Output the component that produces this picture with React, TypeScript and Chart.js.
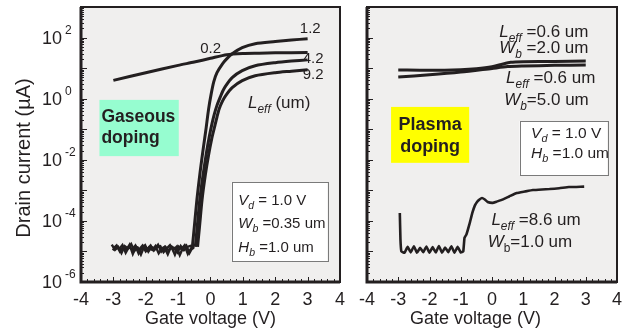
import React, { useEffect, useRef } from "react";
import { Chart, registerables } from "chart.js";

Chart.register(...registerables);

const FONT = '"Liberation Sans", Arial, Helvetica, sans-serif';
const INK = "#231f20";

// ---------- Left panel (gaseous doping) ----------
const xTicksMinMax = [-4, 4];
const yRange = [1e-6, 1e3];
const yTickValues = [1e2, 1, 1e-2, 1e-4, 1e-6];
const yTickExponents = ["2", "0", "-2", "-4", "-6"];

const offAX = [-3.05, -2.95, -2.85, -2.75, -2.65, -2.55, -2.45, -2.35, -2.25, -2.15, -2.05, -1.95, -1.85, -1.75, -1.65, -1.55, -1.45, -1.35, -1.25, -1.15, -1.05, -0.95, -0.85, -0.75, -0.65, -0.55];
const offAY = [1.66e-5, 1.12e-5, 1.41e-5, 8.9e-6, 1.51e-5, 1.26e-5, 1.74e-5, 1.05e-5, 1.32e-5, 7.9e-6, 1.45e-5, 1.2e-5, 1.58e-5, 1.07e-5, 1.38e-5, 1.48e-5, 9.5e-6, 1.26e-5, 1.62e-5, 1.12e-5, 1.41e-5, 7.6e-6, 1.32e-5, 1.58e-5, 8.9e-6, 1.38e-5];
const offBX = [-3.0, -2.9, -2.8, -2.7, -2.6, -2.5, -2.4, -2.3, -2.2, -2.1, -2.0, -1.9, -1.8, -1.7, -1.6, -1.5, -1.4, -1.3, -1.2, -1.1, -1.0, -0.9, -0.8, -0.7, -0.6, -0.5];
const offBY = [1.26e-5, 1.58e-5, 1.0e-5, 1.38e-5, 1.12e-5, 1.66e-5, 8.3e-6, 1.45e-5, 1.17e-5, 1.55e-5, 1.0e-5, 1.35e-5, 1.12e-5, 1.51e-5, 8.7e-6, 1.26e-5, 1.45e-5, 1.07e-5, 1.38e-5, 7.9e-6, 1.48e-5, 1.2e-5, 1.58e-5, 8.3e-6, 1.26e-5, 1.41e-5];
const offCX = [-3.02, -2.92, -2.82, -2.72, -2.62, -2.52, -2.42, -2.32, -2.22, -2.12, -2.02, -1.92, -1.82, -1.72, -1.62, -1.52, -1.42, -1.32, -1.22, -1.12, -1.02, -0.92, -0.82, -0.72, -0.62, -0.52];
const offCY = [1.1e-5, 1.45e-5, 1.2e-5, 1.62e-5, 9.1e-6, 1.4e-5, 1.15e-5, 1.55e-5, 8.5e-6, 1.3e-5, 1.6e-5, 9.8e-6, 1.4e-5, 1.22e-5, 1.66e-5, 1.0e-5, 1.35e-5, 8.1e-6, 1.45e-5, 1.3e-5, 9.3e-6, 1.5e-5, 1.1e-5, 1.4e-5, 1.52e-5, 1.2e-5];

const l02X = [-3, -2, -1, -0.5, 0, 0.5, 1, 1.5, 2, 3];
const l02Y = [3.98, 7.08, 12.3, 15.8, 20.9, 27.5, 30.2, 30.9, 31.6, 32.4];

const l12X = [-0.56, -0.5, -0.42, -0.32, -0.22, -0.14, -0.06, 0.02, 0.1, 0.2, 0.37, 0.5, 0.67, 0.98, 1.38, 2.0, 2.5, 3.0];
const l12Y = [1.41e-5, 6.3e-5, 5.0e-4, 4.0e-3, 0.025, 0.1, 0.447, 1.41, 3.55, 7.08, 13.8, 20.0, 29.5, 46.8, 63.1, 74.1, 83.2, 91.2];

const l42X = [-0.47, -0.41, -0.33, -0.23, -0.13, -0.03, 0.05, 0.12, 0.2, 0.3, 0.38, 0.47, 0.67, 0.98, 1.38, 2.0, 2.5, 3.0];
const l42Y = [1.41e-5, 6.3e-5, 5.0e-4, 3.16e-3, 0.0158, 0.063, 0.158, 0.316, 0.603, 1.12, 1.78, 2.63, 4.9, 8.32, 12.0, 15.1, 17.0, 18.6];

const l92X = [-0.4, -0.34, -0.26, -0.16, -0.06, 0.04, 0.12, 0.2, 0.27, 0.37, 0.47, 0.67, 0.98, 1.38, 2.0, 2.5, 3.0];
const l92Y = [1.41e-5, 6.3e-5, 5.0e-4, 3.16e-3, 0.0141, 0.05, 0.112, 0.251, 0.468, 0.832, 1.26, 2.29, 3.89, 5.62, 7.08, 7.94, 8.91];

// ---------- Right panel (plasma doping) ----------
const wb2X = [-3, -2, -1, -0.5, 0, 0.3, 0.6, 1, 2, 3];
const wb2Y = [8.71, 8.51, 8.91, 9.55, 11.0, 13.2, 15.5, 16.2, 16.6, 17.0];

const wb5X = [-3, -2, -1, 0, 0.5, 1, 2, 3];
const wb5Y = [5.13, 6.03, 7.41, 9.77, 11.2, 11.7, 12.3, 12.6];

const l86X = [-2.95, -2.93, -2.9, -2.8, -2.7, -2.6, -2.5, -2.4, -2.3, -2.2, -2.1, -2.0, -1.9, -1.8, -1.7, -1.6, -1.5, -1.4, -1.3, -1.2, -1.1, -1.0, -0.92, -0.88, -0.82, -0.72, -0.63, -0.55, -0.48, -0.4, -0.32, -0.23, -0.14, 0.02, 0.15, 0.29, 0.55, 0.79, 1.05, 1.31, 1.6, 1.84, 2.15, 2.46, 2.7, 2.95];
const l86Y = [1.82e-4, 2.51e-5, 1.0e-5, 9.1e-6, 1.41e-5, 9.3e-6, 1.48e-5, 9.1e-6, 1.32e-5, 9.5e-6, 1.45e-5, 9.1e-6, 1.38e-5, 9.3e-6, 1.51e-5, 9.1e-6, 1.35e-5, 9.5e-6, 1.48e-5, 9.1e-6, 1.41e-5, 9.3e-6, 1.0e-5, 2.82e-5, 3.55e-5, 7.94e-5, 1.82e-4, 3.16e-4, 4.17e-4, 5.01e-4, 5.62e-4, 5.01e-4, 4.17e-4, 3.89e-4, 4.27e-4, 4.79e-4, 6.31e-4, 8.13e-4, 9.12e-4, 1.02e-3, 1.07e-3, 1.10e-3, 1.17e-3, 1.29e-3, 1.29e-3, 1.32e-3];

type Seg = { t: string; i?: boolean; sub?: boolean; b?: boolean };
type Label = { x: number; ly: number; size: number; segs: Seg[]; align?: "left" | "center" };
type Box = { x1: number; x2: number; ly1: number; ly2: number; fill: string; stroke?: string };

const leftLabels: Label[] = [
  { x: 2.76, ly: 2.15, size: 15, segs: [{ t: "1.2" }] },
  { x: -0.32, ly: 1.49, size: 15, segs: [{ t: "0.2" }] },
  { x: 2.85, ly: 1.17, size: 15, segs: [{ t: "4.2" }] },
  { x: 2.85, ly: 0.64, size: 15, segs: [{ t: "9.2" }] },
  { x: 1.16, ly: -0.31, size: 17, segs: [{ t: "L", i: true }, { t: "eff", i: true, sub: true }, { t: " (um)" }] },
  { x: -3.37, ly: -0.76, size: 17.5, segs: [{ t: "Gaseous", b: true }] },
  { x: -3.37, ly: -1.45, size: 17.5, segs: [{ t: "doping", b: true }] },
  { x: 0.86, ly: -3.48, size: 15, segs: [{ t: "V", i: true }, { t: "d", i: true, sub: true }, { t: " = 1.0 V" }] },
  { x: 0.86, ly: -4.23, size: 15, segs: [{ t: "W", i: true }, { t: "b", i: true, sub: true }, { t: " =0.35 um" }] },
  { x: 0.86, ly: -5.02, size: 15, segs: [{ t: "H", i: true }, { t: "b", i: true, sub: true }, { t: " =1.0 um" }] },
];
const leftBoxes: Box[] = [
  { x1: -3.43, x2: -0.98, ly1: -0.04, ly2: -1.88, fill: "#96fdd0" },
  { x1: 0.65, x2: 3.61, ly1: -2.73, ly2: -5.31, fill: "#ffffff", stroke: "#7a7a7a" },
];

const rightLabels: Label[] = [
  { x: 0.23, ly: 2.02, size: 17, segs: [{ t: "L", i: true }, { t: "eff", i: true, sub: true }, { t: " =0.6 um" }] },
  { x: 0.23, ly: 1.49, size: 17, segs: [{ t: "W", i: true }, { t: "b", i: true, sub: true }, { t: " =2.0 um" }] },
  { x: 0.45, ly: 0.51, size: 17, segs: [{ t: "L", i: true }, { t: "eff", i: true, sub: true }, { t: " =0.6 um" }] },
  { x: 0.39, ly: -0.21, size: 17, segs: [{ t: "W", i: true }, { t: "b", i: true, sub: true }, { t: "=5.0 um" }] },
  { x: -0.02, ly: -4.13, size: 17, segs: [{ t: "L", i: true }, { t: "eff", i: true, sub: true }, { t: " =8.6 um" }] },
  { x: -0.14, ly: -4.85, size: 17, segs: [{ t: "W", i: true }, { t: "b", sub: true }, { t: "=1.0 um" }] },
  { x: -1.98, ly: -1.02, size: 18, segs: [{ t: "Plasma", b: true }], align: "center" },
  { x: -1.98, ly: -1.74, size: 18, segs: [{ t: "doping", b: true }], align: "center" },
  { x: 1.25, ly: -1.29, size: 15.5, segs: [{ t: "V", i: true }, { t: "d", i: true, sub: true }, { t: " = 1.0 V" }] },
  { x: 1.25, ly: -1.94, size: 15.5, segs: [{ t: "H", i: true }, { t: "b", i: true, sub: true }, { t: " =1.0 um" }] },
];
const rightBoxes: Box[] = [
  { x1: -3.23, x2: -0.73, ly1: -0.27, ly2: -2.1, fill: "#ffff00" },
  { x1: 0.88, x2: 3.69, ly1: -0.73, ly2: -2.5, fill: "#ffffff", stroke: "#7a7a7a" },
];

function pts(xs: number[], ys: number[]) {
  return xs.map((x, i) => ({ x, y: ys[i] }));
}

function segFont(s: Seg, size: number) {
  const fs = s.sub ? size * 0.7 : size;
  return `${s.i ? "italic " : ""}${s.b ? "bold " : ""}${fs}px ${FONT}`;
}

function drawRich(ctx: CanvasRenderingContext2D, x: number, y: number, segs: Seg[], size: number, align?: string) {
  let total = 0;
  for (const s of segs) {
    ctx.font = segFont(s, size);
    total += ctx.measureText(s.t).width;
  }
  let cx = align === "center" ? x - total / 2 : x;
  ctx.textAlign = "left";
  ctx.textBaseline = "alphabetic";
  for (const s of segs) {
    ctx.font = segFont(s, size);
    ctx.fillText(s.t, cx, y + (s.sub ? size * 0.28 : 0));
    cx += ctx.measureText(s.t).width;
  }
}

type PanelCfg = {
  labels: Label[];
  boxes: Box[];
  yLabels: boolean;
  xTitleX?: number;
};

function makePlugin(cfg: PanelCfg) {
  return {
    id: "panelDecor",
    beforeDatasetsDraw(chart: any) {
      const { ctx, chartArea: a, scales } = chart;
      const sx = scales.x, sy = scales.y;
      ctx.save();
      ctx.fillStyle = "#f0efee";
      ctx.fillRect(a.left, a.top, a.right - a.left, a.bottom - a.top);
      for (const b of cfg.boxes) {
        const x1 = sx.getPixelForValue(b.x1), x2 = sx.getPixelForValue(b.x2);
        const y1 = sy.getPixelForValue(Math.pow(10, b.ly1)), y2 = sy.getPixelForValue(Math.pow(10, b.ly2));
        ctx.fillStyle = b.fill;
        ctx.fillRect(x1, y1, x2 - x1, y2 - y1);
        if (b.stroke) {
          ctx.strokeStyle = b.stroke;
          ctx.lineWidth = 1;
          ctx.strokeRect(Math.round(x1) + 0.5, Math.round(y1) + 0.5, Math.round(x2 - x1), Math.round(y2 - y1));
        }
      }
      ctx.restore();
    },
    afterDatasetsDraw(chart: any) {
      const { ctx, chartArea: a, scales } = chart;
      const sx = scales.x, sy = scales.y;
      ctx.save();
      ctx.fillStyle = INK;
      for (const l of cfg.labels) {
        drawRich(ctx, sx.getPixelForValue(l.x), sy.getPixelForValue(Math.pow(10, l.ly)), l.segs, l.size, l.align);
      }
      // inward tick marks
      ctx.strokeStyle = INK;
      ctx.lineWidth = 1;
      for (let k = -20; k <= 20; k++) {
        const px = Math.round(sx.getPixelForValue(k / 5)) + 0.5;
        const len = k % 5 === 0 ? 5 : 3;
        ctx.beginPath();
        ctx.moveTo(px, a.bottom);
        ctx.lineTo(px, a.bottom - len);
        ctx.stroke();
      }
      for (let d = -6; d <= 2; d++) {
        for (let m = 1; m <= 9; m++) {
          const py = Math.round(sy.getPixelForValue(m * Math.pow(10, d))) + 0.5;
          const len = m === 1 ? 6 : 3;
          ctx.beginPath();
          ctx.moveTo(a.left, py);
          ctx.lineTo(a.left + len, py);
          ctx.stroke();
        }
      }
      // frame
      ctx.lineWidth = 2;
      ctx.strokeRect(a.left, a.top, a.right - a.left, a.bottom - a.top);
      ctx.lineWidth = 3;
      ctx.beginPath();
      ctx.moveTo(a.left, a.top);
      ctx.lineTo(a.left, a.bottom);
      ctx.lineTo(a.right, a.bottom);
      ctx.stroke();
      ctx.restore();
    },
    afterDraw(chart: any) {
      const { ctx, scales } = chart;
      const sy = scales.y;
      ctx.save();
      ctx.fillStyle = INK;
      if (cfg.yLabels) {
        yTickValues.forEach((v, i) => {
          const py = sy.getPixelForValue(v);
          ctx.font = `18px ${FONT}`;
          ctx.textAlign = "left";
          ctx.textBaseline = "middle";
          ctx.fillText("10", 42, py + 1);
          ctx.font = `12px ${FONT}`;
          ctx.textBaseline = "alphabetic";
          ctx.fillText(yTickExponents[i], 65, py - 4);
        });
        ctx.translate(24, 158);
        ctx.rotate(-Math.PI / 2);
        ctx.font = `20px ${FONT}`;
        ctx.textAlign = "center";
        ctx.textBaseline = "middle";
        ctx.fillText("Drain current (\u00b5A)", 0, 0);
      }
      ctx.restore();
      if (cfg.xTitleX !== undefined) {
        ctx.save();
        ctx.fillStyle = INK;
        ctx.font = `18px ${FONT}`;
        ctx.textAlign = "center";
        ctx.textBaseline = "middle";
        ctx.fillText("Gate voltage (V)", cfg.xTitleX, 319);
        ctx.restore();
      }
    },
  };
}

function lineDs(data: { x: number; y: number }[], width = 3) {
  return {
    data,
    showLine: true,
    borderColor: INK,
    backgroundColor: INK,
    borderWidth: width,
    pointRadius: 0,
    tension: 0.25,
    fill: false,
  };
}

function makeOptions(yWidth: number, padRight: number, showXTitle: boolean) {
  return {
    responsive: false,
    animation: false as const,
    layout: { padding: { left: 0, right: padRight, top: 7, bottom: 0 } },
    plugins: { legend: { display: false }, tooltip: { enabled: false } },
    scales: {
      x: {
        type: "linear" as const,
        min: xTicksMinMax[0],
        max: xTicksMinMax[1],
        grid: { display: false, drawTicks: false },
        border: { display: false },
        ticks: {
          stepSize: 1,
          autoSkip: false,
          maxRotation: 0,
          padding: 7,
          color: INK,
          font: { family: FONT, size: 18 },
        },
        title: {
          display: showXTitle,
          text: "Gate voltage (V)",
          color: INK,
          font: { family: FONT, size: 18 },
          padding: { top: 0, bottom: 0 },
        },
        afterFit: (s: any) => {
          s.height = 48;
        },
      },
      y: {
        type: "logarithmic" as const,
        min: yRange[0],
        max: yRange[1],
        grid: { display: false, drawTicks: false },
        border: { display: false },
        ticks: { display: false },
        afterFit: (s: any) => {
          s.width = yWidth;
        },
      },
    },
  };
}

function Panel(props: { left: number; width: number; yWidth: number; padRight: number; datasets: any[]; cfg: PanelCfg; xTitle: boolean }) {
  const ref = useRef<HTMLCanvasElement>(null);
  useEffect(() => {
    if (!ref.current) return;
    const chart = new Chart(ref.current, {
      type: "scatter",
      data: { datasets: props.datasets },
      options: makeOptions(props.yWidth, props.padRight, props.xTitle) as any,
      plugins: [makePlugin(props.cfg)],
    });
    return () => chart.destroy();
  }, []);
  return (
    <canvas
      ref={ref}
      width={props.width}
      height={330}
      style={{ position: "absolute", left: props.left, top: 0, width: props.width, height: 330 }}
    />
  );
}

export default function App() {
  const leftDatasets = [
    { ...lineDs(pts(offAX, offAY), 2.4), tension: 0 },
    { ...lineDs(pts(offBX, offBY), 2.4), tension: 0 },
    { ...lineDs(pts(offCX, offCY), 2.4), tension: 0 },
    lineDs(pts(l02X, l02Y)),
    lineDs(pts(l12X, l12Y)),
    lineDs(pts(l42X, l42Y)),
    lineDs(pts(l92X, l92Y)),
  ];
  const rightDatasets = [
    lineDs(pts(wb2X, wb2Y)),
    lineDs(pts(wb5X, wb5Y)),
    { ...lineDs(pts(l86X, l86Y), 2.6), tension: 0.1 },
  ];
  return (
    <div style={{ position: "absolute", left: 0, top: 0, width: 635, height: 330, background: "#fff", overflow: "hidden" }}>
      <Panel
        left={0}
        width={352}
        yWidth={81}
        padRight={6}
        datasets={leftDatasets}
        cfg={{ labels: leftLabels, boxes: leftBoxes, yLabels: true }}
        xTitle={true}
      />
      <Panel
        left={352}
        width={283}
        yWidth={6}
        padRight={18}
        datasets={rightDatasets}
        cfg={{ labels: rightLabels, boxes: rightBoxes, yLabels: false, xTitleX: 123.5 }}
        xTitle={false}
      />
    </div>
  );
}
